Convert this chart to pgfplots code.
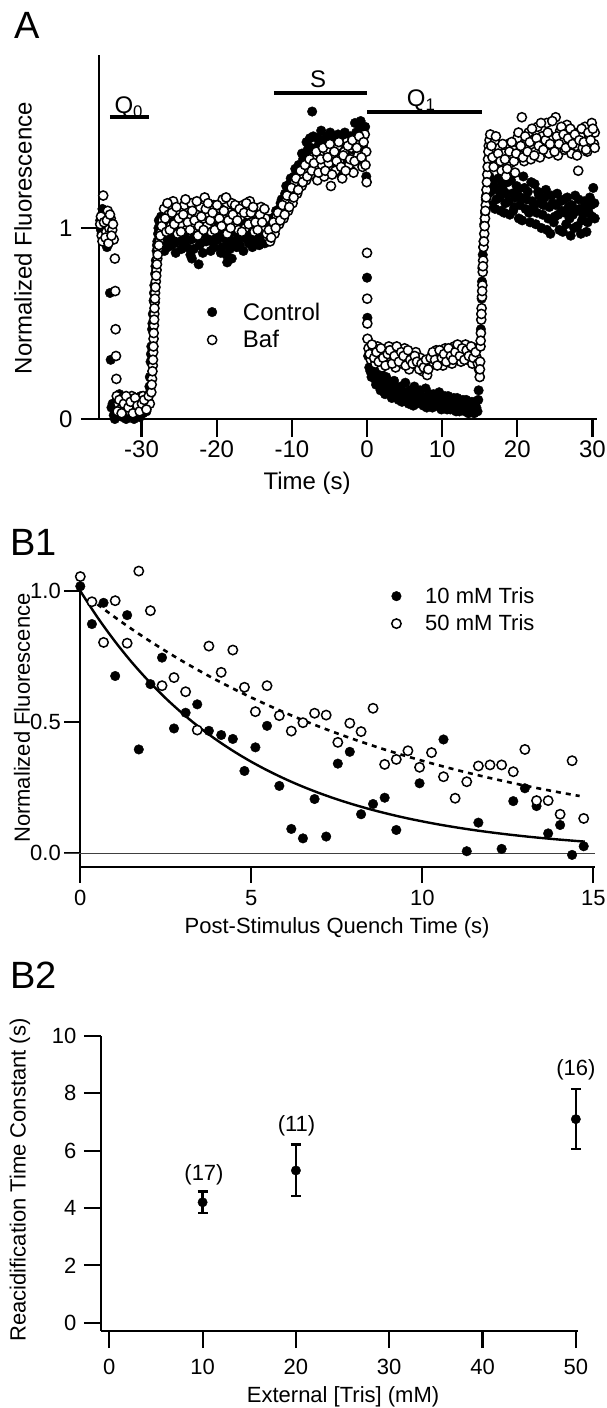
\documentclass[border=0pt]{standalone}
\usepackage{fontspec}
\setmainfont{Liberation Sans}
\usepackage{pgfplots}
\pgfplotsset{compat=1.18}

\newcommand{\fA}{\fontsize{24}{28}\selectfont}
\newcommand{\fB}{\fontsize{22}{26}\selectfont}
\newcommand{\fP}{\fontsize{38}{44}\selectfont}

\pgfplotsset{
  myax/.style={
    scale only axis,
    axis lines*=left,
    axis line style={-, line width=2.2pt},
    tick align=outside,
    xtick pos=left, ytick pos=left,
    major tick style={line width=2.2pt, black},
    clip=false,
    legend cell align=left,
  },
  filled/.style={only marks, mark=*, mark size=4.8pt, black},
  open/.style={only marks, mark=*, mark size=4.6pt, mark options={fill=white, draw=black, line width=1.5pt}},
}

\begin{document}
\begin{tikzpicture}
\path[use as bounding box] (0pt,0pt) rectangle (606pt,-1408pt);

\node[font=\fP, anchor=base west, inner sep=0pt] at (14pt,-38pt) {A};
\node[font=\fP, anchor=base west, inner sep=0pt] at (10pt,-555pt) {B1};
\node[font=\fP, anchor=base west, inner sep=0pt] at (10pt,-988pt) {B2};

% ---------------- Panel A ----------------
\begin{axis}[myax,
  at={(99pt,-419pt)}, anchor=south west,
  width=498pt, height=364pt,
  xmin=-35.66, xmax=30.6, ymin=0, ymax=1.906,
  xtick={-30,-20,-10,0,10,20,30}, xticklabels={-30,-20,-10,0,10,20,30},
  ytick={0,1}, yticklabels={0,1},
  major tick length=18pt,
  tick label style={font=\fA},
  yticklabel style={xshift=-5pt},
  xlabel={Time (s)}, ylabel={Normalized Fluorescence},
  every axis x label/.style={at={(axis description cs:0.418,-0.176)}, anchor=center, font=\fA},
  every axis y label/.style={at={(axis description cs:-0.1526,0.497)}, anchor=center, rotate=90, font=\fA},
  legend style={draw=none, fill=none, font=\fA, at={(axis cs:-21.67,0.487)}, anchor=west, row sep=5pt,
    /tikz/every odd column/.append style={column sep=24pt}},
]
\addplot[filled] coordinates {
(-35.5,1.04) (-35.3,0.97) (-35.1,1.08) (-34.9,0.93) (-34.7,1.01) (-34.5,0.95) (-34.3,1.05)
(-35.4,0.99) (-35.2,1.10) (-35.0,0.96) (-34.8,1.03) (-34.6,0.90) (-34.4,0.98)
(-34.2,0.66) (-34.1,0.31)
(-34.0,0.06) (-33.7,0.02) (-33.4,0.09) (-33.1,0.04) (-32.8,0.11) (-32.5,0.01) (-32.2,0.07) (-31.9,0.03)
(-31.6,0.10) (-31.3,0.05) (-31.0,0.00) (-30.7,0.08) (-30.4,0.04) (-30.1,0.12) (-29.8,0.03) (-29.5,0.07) (-29.2,0.10)
(-33.85,0.08) (-33.55,0.00) (-33.25,0.06) (-32.95,0.13) (-32.65,0.04) (-32.35,0.09) (-32.05,0.00) (-31.75,0.06)
(-31.45,0.02) (-31.15,0.08) (-30.85,0.03) (-30.55,0.10) (-30.25,0.01) (-29.95,0.06) (-29.65,0.11) (-29.35,0.04)
(-29.0,0.13) (-28.9,0.22) (-28.8,0.30) (-28.7,0.38) (-28.6,0.47) (-28.5,0.55) (-28.4,0.62) (-28.3,0.70)
(-28.2,0.76) (-28.1,0.83) (-28.0,0.88) (-27.9,0.93) (-27.8,0.97) (-27.7,1.04) (-27.6,0.99)
(-28.95,0.17) (-28.75,0.34) (-28.55,0.50) (-28.35,0.66) (-28.15,0.80) (-27.95,0.91) (-27.75,1.00) (-27.5,0.94)
(-27.4,1.06) (-27.1,0.93) (-26.8,0.99) (-26.5,0.90) (-26.2,1.03) (-25.9,0.96) (-25.6,0.92) (-25.3,1.05)
(-25.0,0.97) (-24.7,0.89) (-24.4,1.01) (-24.1,0.94) (-23.8,0.99) (-23.5,0.86) (-23.2,1.04) (-22.9,0.95)
(-22.6,1.00) (-22.3,0.91) (-22.0,1.07) (-21.7,0.97) (-21.4,0.93) (-21.1,1.02) (-20.8,0.88) (-20.5,0.99)
(-20.2,1.05) (-19.9,0.94) (-19.6,0.98) (-19.3,0.90) (-19.0,1.03) (-18.7,0.86) (-18.4,0.96) (-18.1,1.01)
(-17.8,0.93) (-17.5,1.06) (-17.2,0.97) (-16.9,0.91) (-16.6,1.02) (-16.3,0.95) (-16.0,0.99) (-15.7,0.92)
(-15.4,1.04) (-15.1,0.96) (-14.8,0.93) (-14.5,1.00) (-14.2,0.94) (-13.9,0.98) (-13.6,0.92) (-13.3,0.97)
(-27.25,0.98) (-26.95,0.88) (-26.65,1.04) (-26.35,0.95) (-26.05,0.91) (-25.75,1.00) (-25.45,0.87) (-25.15,0.95)
(-24.85,1.03) (-24.55,0.93) (-24.25,0.97) (-23.95,0.90) (-23.65,1.02) (-23.35,0.94) (-23.05,0.89) (-22.75,0.98)
(-22.45,1.05) (-22.15,0.92) (-21.85,0.87) (-21.55,0.99) (-21.25,0.95) (-20.95,1.04) (-20.65,0.93) (-20.35,0.90)
(-20.05,0.97) (-19.75,1.02) (-19.45,0.87) (-19.15,0.95) (-18.85,1.00) (-18.55,0.92) (-18.25,0.89) (-17.95,0.98)
(-17.65,1.03) (-17.35,0.90) (-17.05,0.95) (-16.75,0.99) (-16.45,0.88) (-16.15,1.03) (-15.85,0.94) (-15.55,0.97)
(-15.25,0.90) (-14.95,1.01) (-14.65,0.95) (-14.35,0.91) (-14.05,0.99) (-13.75,0.94) (-13.45,1.01) (-13.15,0.93)
(-23.3,0.84) (-22.4,0.81) (-18.6,0.82) (-18.0,0.84)
(-13.0,0.96) (-12.7,1.05) (-12.4,1.00) (-12.1,1.09) (-11.8,1.04) (-11.5,1.13) (-11.2,1.08) (-10.9,1.18)
(-10.6,1.12) (-10.3,1.23) (-10.0,1.17) (-9.7,1.27) (-9.4,1.21) (-9.1,1.33) (-8.8,1.25) (-8.5,1.36)
(-8.2,1.29) (-7.9,1.41) (-7.6,1.47) (-7.3,1.61) (-7.0,1.38) (-6.7,1.30) (-6.4,1.44) (-6.1,1.51)
(-5.8,1.35) (-5.5,1.42) (-5.2,1.29) (-4.9,1.50) (-4.6,1.37) (-4.3,1.45) (-4.0,1.32) (-3.7,1.40)
(-3.4,1.27) (-3.1,1.46) (-2.8,1.38) (-2.5,1.33) (-2.2,1.48) (-1.9,1.41) (-1.6,1.55) (-1.3,1.44)
(-1.0,1.52) (-0.7,1.36) (-0.4,1.49) (-0.1,1.27)
(-12.85,1.01) (-12.55,0.98) (-12.25,1.06) (-11.95,1.02) (-11.65,1.10) (-11.35,1.15) (-11.05,1.12) (-10.75,1.22)
(-10.45,1.16) (-10.15,1.26) (-9.85,1.21) (-9.55,1.31) (-9.25,1.26) (-8.95,1.29) (-8.65,1.39) (-8.35,1.33)
(-8.05,1.45) (-7.75,1.37) (-7.45,1.42) (-7.15,1.48) (-6.85,1.34) (-6.55,1.47) (-6.25,1.40) (-5.95,1.46)
(-5.65,1.32) (-5.35,1.48) (-5.05,1.41) (-4.75,1.35) (-4.45,1.47) (-4.15,1.39) (-3.85,1.49) (-3.55,1.34)
(-3.25,1.42) (-2.95,1.50) (-2.65,1.36) (-2.35,1.44) (-2.05,1.30) (-1.75,1.47) (-1.45,1.50) (-1.15,1.39)
(-0.85,1.56) (-0.55,1.43) (-0.25,1.53)
(0.0,0.74) (0.05,0.53)
(0.15,0.33) (0.3,0.27) (0.6,0.22) (0.9,0.29) (1.2,0.18) (1.5,0.24) (1.8,0.15) (2.1,0.21)
(2.4,0.13) (2.7,0.19) (3.0,0.16) (3.3,0.11) (3.6,0.20) (3.9,0.14) (4.2,0.10) (4.5,0.17)
(4.8,0.12) (5.1,0.19) (5.4,0.09) (5.7,0.15) (6.0,0.11) (6.3,0.17) (6.6,0.08) (6.9,0.14)
(7.2,0.12) (7.5,0.07) (7.8,0.16) (8.1,0.10) (8.4,0.13) (8.7,0.06) (9.0,0.12) (9.3,0.09)
(9.6,0.14) (9.9,0.05) (10.2,0.11) (10.5,0.08) (10.8,0.12) (11.1,0.05) (11.4,0.10) (11.7,0.07)
(12.0,0.11) (12.3,0.04) (12.6,0.09) (12.9,0.06) (13.2,0.10) (13.5,0.03) (13.8,0.08) (14.1,0.05)
(14.4,0.09) (14.7,0.04) (14.85,0.15)
(0.45,0.25) (0.75,0.30) (1.05,0.21) (1.35,0.26) (1.65,0.19) (1.95,0.23) (2.25,0.17) (2.55,0.22)
(2.85,0.14) (3.15,0.19) (3.45,0.13) (3.75,0.17) (4.05,0.12) (4.35,0.15) (4.65,0.09) (4.95,0.14)
(5.25,0.13) (5.55,0.08) (5.85,0.13) (6.15,0.07) (6.45,0.12) (6.75,0.10) (7.05,0.15) (7.35,0.09)
(7.65,0.11) (7.95,0.06) (8.25,0.12) (8.55,0.09) (8.85,0.13) (9.15,0.07) (9.45,0.10) (9.75,0.06)
(10.05,0.09) (10.35,0.12) (10.65,0.05) (10.95,0.09) (11.25,0.07) (11.55,0.11) (11.85,0.04) (12.15,0.08)
(12.45,0.06) (12.75,0.10) (13.05,0.04) (13.35,0.07) (13.65,0.05) (13.95,0.09) (14.25,0.03) (14.55,0.06) (14.8,0.10)
(15.0,0.22) (15.1,0.38) (15.2,0.55) (15.3,0.72) (15.4,0.86) (15.5,0.93) (15.6,1.02) (15.7,1.08)
(15.8,1.15) (15.9,1.20) (16.0,1.24) (16.1,1.18)
(15.05,0.30) (15.15,0.47) (15.25,0.63) (15.35,0.79) (15.45,0.90) (15.65,1.05) (15.85,1.17) (16.05,1.21) (16.2,1.25)
(16.3,1.27) (16.6,1.12) (16.9,1.22) (17.2,1.15) (17.5,1.26) (17.8,1.09) (18.1,1.20) (18.4,1.13)
(18.7,1.24) (19.0,1.07) (19.3,1.18) (19.6,1.11) (19.9,1.22) (20.2,1.05) (20.5,1.16) (20.8,1.27)
(21.1,1.10) (21.4,1.19) (21.7,1.03) (22.0,1.14) (22.3,1.23) (22.6,1.08) (22.9,1.17) (23.2,1.00)
(23.5,1.12) (23.8,1.20) (24.1,1.05) (24.4,0.97) (24.7,1.13) (25.0,1.06) (25.3,1.18) (25.6,0.99)
(25.9,1.09) (26.2,1.15) (26.5,1.02) (26.8,1.11) (27.1,0.96) (27.4,1.07) (27.7,1.17) (28.0,1.01)
(28.3,1.10) (28.6,1.04) (28.9,1.14) (29.2,0.98) (29.5,1.08) (29.8,1.12) (30.1,1.21) (30.3,1.05)
(16.45,1.19) (16.75,1.25) (17.05,1.10) (17.35,1.20) (17.65,1.16) (17.95,1.24) (18.25,1.08) (18.55,1.18)
(18.85,1.14) (19.15,1.25) (19.45,1.09) (19.75,1.16) (20.05,1.20) (20.35,1.12) (20.65,1.04) (20.95,1.21)
(21.25,1.15) (21.55,1.08) (21.85,1.24) (22.15,1.11) (22.45,1.02) (22.75,1.19) (23.05,1.13) (23.35,1.07)
(23.65,1.16) (23.95,0.99) (24.25,1.11) (24.55,1.17) (24.85,1.03) (25.15,1.12) (25.45,1.07) (25.75,1.14)
(26.05,0.98) (26.35,1.08) (26.65,1.16) (26.95,1.05) (27.25,1.12) (27.55,1.00) (27.85,1.09) (28.15,1.15)
(28.45,0.97) (28.75,1.07) (29.05,1.11) (29.35,1.03) (29.65,1.16) (29.95,1.06) (30.25,1.13)
};
\addlegendentry{Control}
\addplot[open] coordinates {
(-35.5,1.02) (-35.3,0.96) (-35.1,1.17) (-34.9,1.06) (-34.7,0.98) (-34.5,1.09) (-34.3,1.00) (-34.1,1.05)
(-33.9,0.99) (-33.7,0.94)
(-35.4,1.06) (-35.2,0.93) (-35.0,1.03) (-34.8,0.95) (-34.6,1.04) (-34.4,0.92) (-34.2,1.07) (-34.0,0.96) (-33.8,1.02)
(-33.55,0.84) (-33.5,0.67) (-33.45,0.47) (-33.4,0.33) (-33.35,0.21) (-33.3,0.12)
(-33.1,0.08) (-32.8,0.05) (-32.5,0.11) (-32.2,0.06) (-31.9,0.09) (-31.6,0.04) (-31.3,0.12) (-31.0,0.07)
(-30.7,0.10) (-30.4,0.05) (-30.1,0.09) (-29.8,0.12) (-29.5,0.06) (-29.2,0.10) (-28.9,0.08)
(-33.2,0.04) (-32.95,0.10) (-32.65,0.03) (-32.35,0.08) (-32.05,0.12) (-31.75,0.06) (-31.45,0.09) (-31.15,0.03)
(-30.85,0.11) (-30.55,0.07) (-30.25,0.04) (-29.95,0.08) (-29.65,0.10) (-29.35,0.05) (-29.05,0.12)
(-28.7,0.14) (-28.6,0.21) (-28.5,0.28) (-28.45,0.35) (-28.4,0.42) (-28.35,0.49) (-28.3,0.55) (-28.25,0.61)
(-28.2,0.66) (-28.1,0.72) (-28.0,0.78) (-27.9,0.84) (-27.8,0.89) (-27.6,0.93) (-27.4,0.98) (-27.2,1.04)
(-28.65,0.18) (-28.55,0.25) (-28.48,0.31) (-28.42,0.38) (-28.38,0.45) (-28.32,0.52) (-28.28,0.58) (-28.22,0.63)
(-28.15,0.69) (-28.05,0.75) (-27.95,0.81) (-27.85,0.86) (-27.7,0.91) (-27.5,0.96) (-27.3,1.01)
(-27.0,1.10) (-26.7,0.98) (-26.4,1.07) (-26.1,1.01) (-25.8,1.14) (-25.5,1.03) (-25.2,0.97) (-24.9,1.09)
(-24.6,1.02) (-24.3,1.12) (-24.0,0.99) (-23.7,1.06) (-23.4,1.13) (-23.1,1.00) (-22.8,1.08) (-22.5,0.96)
(-22.2,1.11) (-21.9,1.04) (-21.6,1.16) (-21.3,1.01) (-21.0,1.07) (-20.7,0.98) (-20.4,1.12) (-20.1,1.05)
(-19.8,1.00) (-19.5,1.10) (-19.2,1.15) (-18.9,1.03) (-18.6,0.97) (-18.3,1.08) (-18.0,1.13) (-17.7,1.02)
(-17.4,1.09) (-17.1,0.99) (-16.8,1.06) (-16.5,1.12) (-16.2,1.00) (-15.9,1.07) (-15.6,1.14) (-15.3,1.03)
(-15.0,0.98) (-14.7,1.09) (-14.4,1.04) (-14.1,1.11) (-13.8,0.99) (-13.5,1.05) (-13.2,0.95)
(-26.85,1.05) (-26.55,1.13) (-26.25,0.99) (-25.95,1.08) (-25.65,1.02) (-25.35,1.11) (-25.05,1.05) (-24.75,0.98)
(-24.45,1.07) (-24.15,1.15) (-23.85,1.03) (-23.55,0.99) (-23.25,1.09) (-22.95,1.04) (-22.65,1.14) (-22.35,1.01)
(-22.05,1.06) (-21.75,0.99) (-21.45,1.10) (-21.15,1.13) (-20.85,1.04) (-20.55,1.08) (-20.25,0.99) (-19.95,1.12)
(-19.65,1.05) (-19.35,1.01) (-19.05,1.09) (-18.75,1.16) (-18.45,1.04) (-18.15,1.00) (-17.85,1.07) (-17.55,1.12)
(-17.25,1.04) (-16.95,1.10) (-16.65,0.98) (-16.35,1.08) (-16.05,1.13) (-15.75,1.02) (-15.45,1.08) (-15.15,1.11)
(-14.85,1.03) (-14.55,0.99) (-14.25,1.07) (-13.95,1.03) (-13.65,1.10) (-13.35,0.97)
(-12.9,0.93) (-12.6,1.01) (-12.3,0.97) (-12.0,1.06) (-11.7,1.02) (-11.4,1.10) (-11.1,1.05) (-10.8,1.14)
(-10.5,1.09) (-10.2,1.19) (-9.9,1.13) (-9.6,1.24) (-9.3,1.18) (-9.0,1.28) (-8.7,1.22) (-8.4,1.31)
(-8.1,1.25) (-7.8,1.34) (-7.5,1.28) (-7.2,1.37) (-6.9,1.31) (-6.6,1.25) (-6.3,1.39) (-6.0,1.33)
(-5.7,1.27) (-5.4,1.41) (-5.1,1.34) (-4.8,1.22) (-4.5,1.38) (-4.2,1.30) (-3.9,1.43) (-3.6,1.36)
(-3.3,1.26) (-3.0,1.40) (-2.7,1.45) (-2.4,1.33) (-2.1,1.42) (-1.8,1.29) (-1.5,1.47) (-1.2,1.38)
(-0.9,1.44) (-0.6,1.32) (-0.3,1.49) (-0.1,1.40) (-0.05,1.24)
(-13.05,0.99) (-12.75,0.95) (-12.45,1.03) (-12.15,1.00) (-11.85,1.08) (-11.55,1.04) (-11.25,1.12) (-10.95,1.07)
(-10.65,1.17) (-10.35,1.11) (-10.05,1.21) (-9.75,1.16) (-9.45,1.26) (-9.15,1.20) (-8.85,1.30) (-8.55,1.24)
(-8.25,1.33) (-7.95,1.27) (-7.65,1.36) (-7.35,1.30) (-7.05,1.34) (-6.75,1.40) (-6.45,1.29) (-6.15,1.36)
(-5.85,1.42) (-5.55,1.30) (-5.25,1.37) (-4.95,1.44) (-4.65,1.28) (-4.35,1.40) (-4.05,1.35) (-3.75,1.45)
(-3.45,1.32) (-3.15,1.38) (-2.85,1.30) (-2.55,1.43) (-2.25,1.36) (-1.95,1.46) (-1.65,1.35) (-1.35,1.42)
(-1.05,1.48) (-0.75,1.37) (-0.45,1.45) (-0.2,1.33)
(0.0,0.87) (0.02,0.63) (0.04,0.50) (0.06,0.42)
(0.2,0.37) (0.5,0.31) (0.8,0.36) (1.1,0.29) (1.4,0.38) (1.7,0.33) (2.0,0.27) (2.3,0.35)
(2.6,0.31) (2.9,0.38) (3.2,0.30) (3.5,0.34) (3.8,0.27) (4.1,0.36) (4.4,0.32) (4.7,0.29)
(5.0,0.37) (5.3,0.31) (5.6,0.26) (5.9,0.34) (6.2,0.30) (6.5,0.35) (6.8,0.28) (7.1,0.32)
(7.4,0.25) (7.7,0.30) (8.0,0.23) (8.3,0.28) (8.6,0.33) (8.9,0.29) (9.2,0.36) (9.5,0.31)
(9.8,0.34) (10.1,0.28) (10.4,0.37) (10.7,0.32) (11.0,0.35) (11.3,0.29) (11.6,0.38) (11.9,0.33)
(12.2,0.36) (12.5,0.30) (12.8,0.34) (13.1,0.39) (13.4,0.31) (13.7,0.35) (14.0,0.29) (14.3,0.37)
(14.6,0.32) (14.9,0.26)
(0.35,0.34) (0.65,0.39) (0.95,0.32) (1.25,0.35) (1.55,0.30) (1.85,0.37) (2.15,0.32) (2.45,0.28)
(2.75,0.34) (3.05,0.36) (3.35,0.29) (3.65,0.33) (3.95,0.38) (4.25,0.30) (4.55,0.35) (4.85,0.33)
(5.15,0.28) (5.45,0.36) (5.75,0.31) (6.05,0.29) (6.35,0.33) (6.65,0.30) (6.95,0.26) (7.25,0.29)
(7.55,0.27) (7.85,0.31) (8.15,0.26) (8.45,0.32) (8.75,0.35) (9.05,0.31) (9.35,0.28) (9.65,0.36)
(9.95,0.32) (10.25,0.34) (10.55,0.30) (10.85,0.37) (11.15,0.33) (11.45,0.31) (11.75,0.35) (12.05,0.39)
(12.35,0.33) (12.65,0.37) (12.95,0.31) (13.25,0.36) (13.55,0.33) (13.85,0.38) (14.15,0.32) (14.45,0.35) (14.75,0.29)
(15.0,0.22) (15.05,0.30) (15.1,0.38) (15.15,0.45) (15.2,0.52) (15.25,0.58) (15.3,0.64) (15.35,0.70)
(15.4,0.77) (15.45,0.83) (15.5,0.90) (15.6,0.97) (15.7,1.05) (15.8,1.12) (15.9,1.20) (16.0,1.28)
(16.1,1.36) (16.2,1.43)
(15.02,0.26) (15.12,0.41) (15.22,0.55) (15.32,0.67) (15.42,0.80) (15.55,0.93) (15.65,1.01) (15.75,1.09)
(15.85,1.16) (15.95,1.24) (16.05,1.32) (16.15,1.40) (16.3,1.46)
(16.4,1.49) (16.7,1.37) (17.0,1.45) (17.3,1.33) (17.6,1.42) (17.9,1.30) (18.2,1.39) (18.5,1.27)
(18.8,1.44) (19.1,1.34) (19.4,1.41) (19.7,1.29) (20.0,1.47) (20.3,1.38) (20.6,1.58) (20.9,1.35)
(21.2,1.44) (21.5,1.50) (21.8,1.36) (22.1,1.46) (22.4,1.40) (22.7,1.53) (23.0,1.37) (23.3,1.48)
(23.6,1.42) (23.9,1.55) (24.2,1.39) (24.5,1.47) (24.8,1.43) (25.1,1.58) (25.4,1.38) (25.7,1.51)
(26.0,1.45) (26.3,1.41) (26.6,1.54) (26.9,1.46) (27.2,1.39) (27.5,1.50) (27.8,1.43) (28.1,1.30)
(28.4,1.48) (28.7,1.42) (29.0,1.53) (29.3,1.40) (29.6,1.47) (29.9,1.55) (30.2,1.44) (30.3,1.50)
(16.55,1.43) (16.85,1.32) (17.15,1.48) (17.45,1.39) (17.75,1.35) (18.05,1.44) (18.35,1.36) (18.65,1.31)
(18.95,1.40) (19.25,1.45) (19.55,1.35) (19.85,1.39) (20.15,1.50) (20.45,1.43) (20.75,1.37) (21.05,1.48)
(21.35,1.40) (21.65,1.45) (21.95,1.52) (22.25,1.38) (22.55,1.47) (22.85,1.43) (23.15,1.55) (23.45,1.41)
(23.75,1.46) (24.05,1.50) (24.35,1.44) (24.65,1.56) (24.95,1.40) (25.25,1.48) (25.55,1.44) (25.85,1.53)
(26.15,1.49) (26.45,1.42) (26.75,1.47) (27.05,1.52) (27.35,1.44) (27.65,1.49) (27.95,1.38) (28.25,1.46)
(28.55,1.52) (28.85,1.45) (29.15,1.41) (29.45,1.50) (29.75,1.46) (30.05,1.52) (30.3,1.42)
};
\addlegendentry{Baf}
\addplot[line width=4pt, forget plot] coordinates {(-34.2,1.58) (-29.0,1.58)};
\addplot[line width=4pt, forget plot] coordinates {(-12.4,1.707) (0,1.707)};
\addplot[line width=4pt, forget plot] coordinates {(0,1.607) (15.3,1.607)};
\node[font=\fA, anchor=base, inner sep=0pt] at (axis cs:-31.7,1.60) {Q\textsubscript{0}};
\node[font=\fA, anchor=base, inner sep=0pt] at (axis cs:-6.5,1.738) {S};
\node[font=\fA, anchor=base, inner sep=0pt] at (axis cs:7.2,1.634) {Q\textsubscript{1}};
\end{axis}

% ---------------- Panel B1 ----------------
\begin{axis}[myax,
  at={(80.3pt,-866.7pt)}, anchor=south west,
  width=514.7pt, height=275.7pt,
  xmin=0, xmax=15.05, ymin=-0.051, ymax=1.0,
  xtick={0,5,10,15}, xticklabels={0,5,10,15},
  ytick={0,0.5,1}, yticklabels={0.0,0.5,1.0},
  major tick length=16pt,
  tick label style={font=\fB},
  xticklabel style={yshift=-4pt},
  xlabel={Post-Stimulus Quench Time (s)}, ylabel={Normalized Fluorescence},
  every axis x label/.style={at={(axis description cs:0.499,-0.222)}, anchor=center, font=\fB},
  every axis y label/.style={at={(axis description cs:-0.113,0.539)}, anchor=center, rotate=90, font=\fB},
  legend style={draw=none, fill=none, font=\fB, at={(axis cs:9.01,0.928)}, anchor=west, row sep=6pt,
    /tikz/every odd column/.append style={column sep=22pt}},
]
\addplot[black!75, line width=1.3pt, forget plot] coordinates {(-0.47,0) (15.05,0)};
\addplot[black, line width=2.4pt, smooth, forget plot] coordinates {
(0,1.000) (0.5,0.9001) (1,0.8102) (1.5,0.7292) (2,0.6564) (2.5,0.5908) (3,0.5318) (3.5,0.4786)
(4,0.4308) (4.5,0.3878) (5,0.3490) (5.5,0.3142) (6,0.2828) (6.5,0.2545) (7,0.2291) (7.5,0.2062)
(8,0.1856) (8.5,0.1671) (9,0.1504) (9.5,0.1353) (10,0.1218) (10.5,0.1096) (11,0.0987) (11.5,0.0888)
(12,0.0800) (12.5,0.0720) (13,0.0648) (13.5,0.0583) (14,0.0525) (14.5,0.0472) (14.75,0.0448)
};
\addplot[black, line width=2.6pt, smooth, dash pattern=on 5pt off 5pt, forget plot] coordinates {
(0.5,0.9493) (1,0.9011) (1.5,0.8553) (2,0.8119) (2.5,0.7707) (3,0.7316) (3.5,0.6945) (4,0.6592)
(4.5,0.6258) (5,0.5940) (5.5,0.5639) (6,0.5353) (6.5,0.5081) (7,0.4823) (7.5,0.4578) (8,0.4346)
(8.5,0.4126) (9,0.3916) (9.5,0.3717) (10,0.3529) (10.5,0.3350) (11,0.3180) (11.5,0.3018) (12,0.2865)
(12.5,0.2720) (13,0.2582) (13.5,0.2451) (14,0.2326) (14.6,0.2185)
};
\addplot[filled, mark size=4.8pt] coordinates {
(0,1.018) (0.34,0.874) (0.68,0.955) (1.02,0.676) (1.37,0.908) (1.71,0.396) (2.05,0.645) (2.39,0.746)
(2.74,0.476) (3.08,0.536) (3.42,0.568) (3.76,0.467) (4.12,0.451) (4.46,0.436) (4.80,0.314) (5.12,0.404)
(5.46,0.486) (5.82,0.257) (6.17,0.093) (6.51,0.057) (6.85,0.207) (7.19,0.064) (7.53,0.342) (7.88,0.387)
(8.21,0.149) (8.56,0.188) (8.90,0.212) (9.24,0.089) (9.92,0.267) (10.62,0.434) (11.30,0.008) (11.64,0.117)
(12.32,0.017) (12.66,0.199) (13.00,0.248) (13.34,0.180) (13.68,0.076) (14.03,0.108) (14.38,-0.006) (14.72,0.027)
};
\addlegendentry{10 mM Tris}
\addplot[open, mark size=4.7pt] coordinates {
(0,1.055) (0.34,0.959) (0.68,0.804) (1.02,0.963) (1.37,0.801) (1.71,1.076) (2.05,0.925) (2.39,0.639)
(2.74,0.670) (3.08,0.616) (3.42,0.470) (3.76,0.790) (4.12,0.690) (4.46,0.775) (4.80,0.633) (5.12,0.540)
(5.46,0.639) (5.82,0.525) (6.17,0.466) (6.51,0.498) (6.85,0.534) (7.19,0.527) (7.53,0.423) (7.88,0.496)
(8.21,0.464) (8.56,0.553) (8.90,0.339) (9.24,0.358) (9.58,0.391) (9.92,0.328) (10.27,0.384) (10.62,0.292)
(10.96,0.210) (11.30,0.273) (11.64,0.333) (11.98,0.337) (12.32,0.337) (12.66,0.311) (13.00,0.396) (13.34,0.201)
(13.68,0.201) (14.03,0.149) (14.38,0.353) (14.72,0.133)
};
\addlegendentry{50 mM Tris}
\end{axis}

% ---------------- Panel B2 ----------------
\begin{axis}[myax,
  at={(100.8pt,-1331pt)}, anchor=south west,
  width=476.9pt, height=295pt,
  xmin=-0.91, xmax=50.2, ymin=-0.29, ymax=10,
  xtick={0,10,20,30,40,50}, xticklabels={0,10,20,30,40,50},
  ytick={0,2,4,6,8,10}, yticklabels={0,2,4,6,8,10},
  major tick length=17pt,
  tick label style={font=\fB},
  xticklabel style={yshift=-8pt},
  yticklabel style={xshift=-4pt},
  xlabel={External [Tris] (mM)}, ylabel={Reacidification Time Constant (s)},
  every axis x label/.style={at={(axis description cs:0.508,-0.223)}, anchor=center, font=\fB},
  every axis y label/.style={at={(axis description cs:-0.1694,0.512)}, anchor=center, rotate=90, font=\fB},
]
\addplot[only marks, mark=*, mark size=4.7pt, black,
  error bars/.cd, y dir=both, y explicit,
  error bar style={line width=2.4pt},
  error mark options={rotate=90, mark size=5pt, line width=2.4pt}]
  coordinates {(10,4.20) +- (0,0.37) (20,5.31) +- (0,0.90) (50,7.10) +- (0,1.05)};
\node[font=\fB] at (axis cs:10.15,5.16) {(17)};
\node[font=\fB] at (axis cs:20.07,6.87) {(11)};
\node[font=\fB] at (axis cs:50,8.82) {(16)};
\end{axis}
\end{tikzpicture}
\end{document}
